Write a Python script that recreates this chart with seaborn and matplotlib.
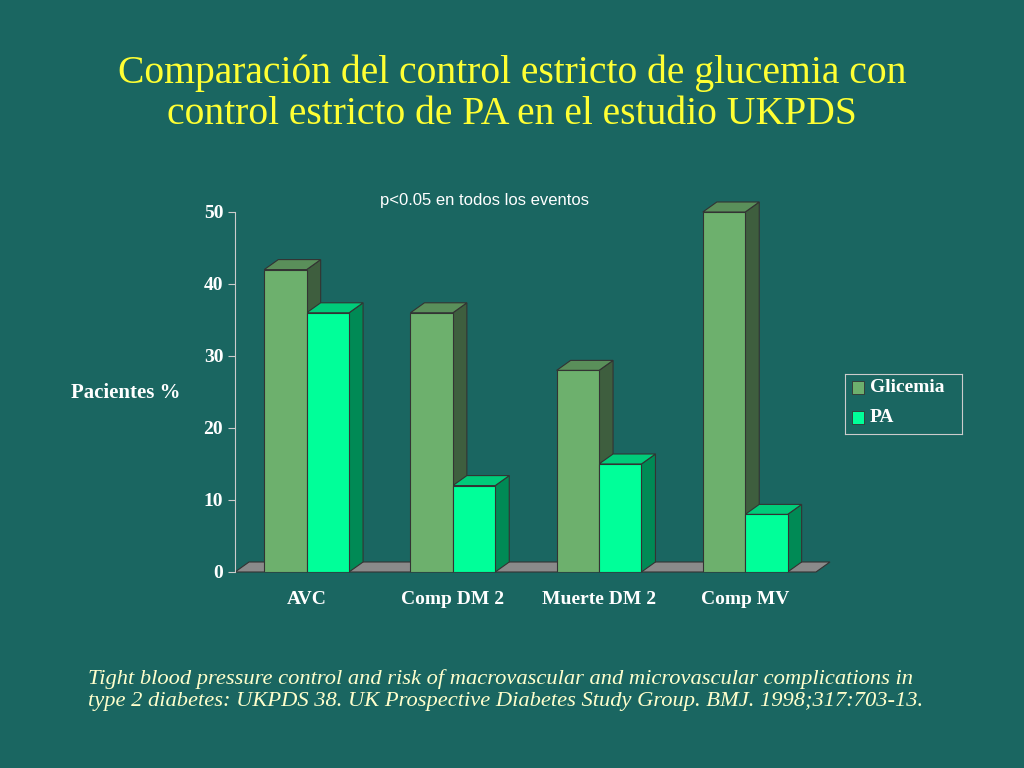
import matplotlib
matplotlib.use("Agg")
import matplotlib.pyplot as plt
import seaborn as sns
import pandas as pd
from matplotlib.patches import Polygon, Rectangle

categories = ["AVC", "Comp DM 2", "Muerte DM 2", "Comp MV"]
glicemia = [42, 36, 28, 50]
pa = [36, 12, 15, 8]
series = ["Glicemia", "PA"]
yticks = [0, 10, 20, 30, 40, 50]

df = pd.DataFrame({
    "cat": categories * 2,
    "val": glicemia + pa,
    "serie": [series[0]] * 4 + [series[1]] * 4,
})

bg = "#1a6661"
front = {"Glicemia": "#6db06d", "PA": "#00ff99"}
side = {"Glicemia": "#3e5e3e", "PA": "#008a55"}
top = {"Glicemia": "#5a8f5a", "PA": "#00cc7a"}

fig = plt.figure(figsize=(10.24, 7.68), dpi=100, facecolor=bg)
ax = fig.add_axes([235/1024, (768-572)/768, (830-235)/1024, 360/768])
ax.set_facecolor("none")

sns.barplot(data=df, x="cat", y="val", hue="serie", order=categories,
            hue_order=series, palette=front, width=0.58, edgecolor="#333333",
            linewidth=0.8, ax=ax, legend=False, saturation=1)

ax.set_xlim(-0.49, 3.58)
ax.set_ylim(0, 50)
dx, dy = 0.096, 1.39

ax.add_patch(Polygon([(-0.49, 0), (3.58 - dx, 0), (3.58, dy), (-0.49 + dx, dy)],
                     closed=True, facecolor="#8a8a8a", edgecolor="#333333",
                     linewidth=0.8, zorder=0.5, clip_on=False))

for i, s in enumerate(series):
    cont = ax.containers[i]
    for p in cont.patches:
        x0, w, h = p.get_x(), p.get_width(), p.get_height()
        x1 = x0 + w
        p.set_zorder(3)
        ax.add_patch(Polygon([(x1, 0), (x1 + dx, dy), (x1 + dx, h + dy), (x1, h)],
                             closed=True, facecolor=side[s], edgecolor="#333333",
                             linewidth=0.8, zorder=2.9 + i*0.01, clip_on=False))
        ax.add_patch(Polygon([(x0, h), (x1, h), (x1 + dx, h + dy), (x0 + dx, h + dy)],
                             closed=True, facecolor=top[s], edgecolor="#333333",
                             linewidth=0.8, zorder=2.9 + i*0.01, clip_on=False))

for sp in ["top", "right", "bottom"]:
    ax.spines[sp].set_visible(False)
ax.spines["left"].set_color("#cccccc")
ax.set_yticks(yticks)
ax.set_yticklabels([str(t) for t in yticks], fontfamily="Liberation Serif",
                   fontweight="bold", fontsize=14)
ax.tick_params(axis="y", colors="#cccccc", labelcolor="white", length=5)
ax.tick_params(axis="x", length=0, pad=14, labelcolor="white")
ax.set_xticks(range(4))
ax.set_xticklabels(categories, fontfamily="Liberation Serif",
                   fontweight="bold", fontsize=14)
ax.set_xlabel("")
ax.set_ylabel("")

fig.text(126/1024, 1 - 393/768, "Pacientes %", color="white",
         fontfamily="Liberation Serif", fontweight="bold", fontsize=15,
         ha="center", va="center")
fig.text(485/1024, 1 - 200/768, "p<0.05 en todos los eventos", color="white",
         fontfamily="Liberation Sans", fontsize=12, ha="center", va="center")
fig.text(512/1024, 1 - 94/768,
         "Comparación del control estricto de glucemia con\ncontrol estricto de PA en el estudio UKPDS",
         color="#ffff33", fontfamily="Liberation Serif", fontsize=28.5,
         ha="center", va="center", linespacing=1.15)
fig.text(88/1024, 1 - 690/768,
         "Tight blood pressure control and risk of macrovascular and microvascular complications in\n"
         "type 2 diabetes: UKPDS 38. UK Prospective Diabetes Study Group. BMJ. 1998;317:703-13.",
         color="#ffffcc", fontfamily="Liberation Serif", fontstyle="italic",
         fontsize=16.2, ha="left", va="center", linespacing=1.2)

lax = fig.add_axes([845/1024, 1 - 434/768, 117/1024, 60/768])
lax.set_facecolor("none")
lax.set_xticks([]); lax.set_yticks([])
for sp in lax.spines.values():
    sp.set_color("#cccccc")
for j, s in enumerate(series):
    yy = 0.66 - j*0.5
    lax.add_patch(Rectangle((0.06, yy), 0.1, 0.22, transform=lax.transAxes,
                            facecolor=front[s], edgecolor="#333333", linewidth=0.6))
    lax.text(0.21, yy + 0.11, s, transform=lax.transAxes, color="white",
             fontfamily="Liberation Serif", fontweight="bold", fontsize=14, va="center")

fig.savefig("out.png", dpi=100, facecolor=bg)
